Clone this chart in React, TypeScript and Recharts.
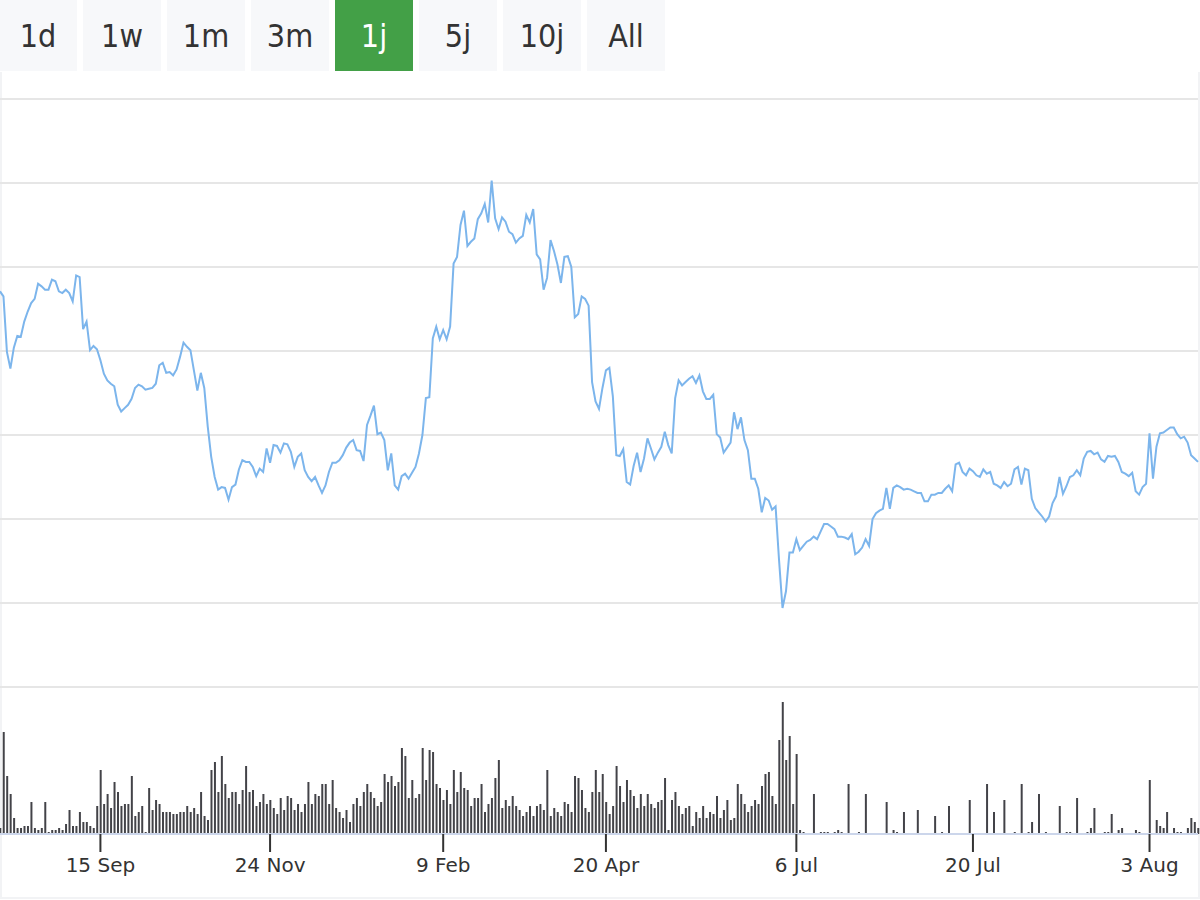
import { ComposedChart, Line, Bar, XAxis, YAxis, CartesianGrid } from "recharts";

// closing price, one point per session
const PRICE = [
  57.1, 56.5, 49.9, 47.9, 50.4, 51.8, 51.7, 53.5, 54.7, 55.7,
  56.2, 58.0, 57.7, 57.3, 57.3, 58.5, 58.3, 57.1, 56.9, 57.3,
  56.9, 55.9, 59.0, 58.8, 52.6, 53.5, 50.1, 50.6, 50.2, 48.9,
  47.3, 46.5, 46.1, 45.8, 43.6, 42.8, 43.2, 43.6, 44.3, 45.6,
  46.0, 45.8, 45.4, 45.5, 45.6, 46.1, 48.3, 48.6, 47.4, 47.5,
  47.1, 47.8, 49.3, 51.0, 50.5, 50.1, 47.7, 45.3, 47.4, 45.6,
  41.0, 37.4, 35.0, 33.5, 33.8, 33.7, 32.3, 33.8, 34.1, 35.9,
  37.0, 36.8, 36.8, 36.2, 35.1, 36.0, 35.6, 38.4, 36.7, 38.8,
  38.7, 37.9, 39.0, 38.9, 38.0, 36.2, 37.4, 37.8, 35.8, 35.0,
  34.5, 35.0, 34.0, 33.1, 34.0, 35.6, 36.7, 36.7, 37.0, 37.6,
  38.5, 39.1, 39.4, 38.2, 38.1, 36.9, 41.2, 42.3, 43.5, 40.1,
  40.3, 39.4, 35.8, 37.8, 34.0, 33.5, 35.1, 35.4, 34.8, 35.5,
  36.2, 37.8, 40.0, 44.4, 44.5, 51.5, 52.9, 51.4, 52.5, 51.4,
  52.9, 60.4, 61.2, 65.0, 66.7, 62.5, 63.0, 63.4, 65.7, 66.4,
  67.5, 65.3, 70.3, 65.8, 64.5, 65.9, 65.4, 64.2, 63.9, 62.9,
  63.4, 63.7, 66.2, 65.3, 66.9, 61.5, 60.9, 57.3, 58.7, 63.2,
  61.9, 60.3, 58.1, 61.2, 61.3, 60.0, 54.0, 54.4, 56.5, 56.2,
  55.4, 46.3, 44.0, 43.1, 45.6, 47.7, 48.0, 44.6, 37.6, 37.5,
  38.3, 34.4, 34.1, 36.3, 37.9, 35.6, 37.2, 39.6, 38.4, 37.1,
  37.9, 38.6, 40.4, 38.8, 37.8, 44.4, 46.5, 45.9, 46.3, 46.7,
  47.0, 46.2, 47.1, 45.2, 44.3, 44.3, 44.8, 40.1, 39.7, 37.9,
  38.5, 39.1, 42.7, 40.7, 42.1, 39.4, 38.2, 34.8, 34.8, 33.6,
  30.8, 32.5, 32.2, 31.1, 31.5, 25.1, 19.4, 21.4, 26.0, 26.0,
  27.6, 26.3, 26.8, 27.3, 27.5, 27.9, 27.6, 28.5, 29.4, 29.4,
  29.1, 28.8, 27.9, 27.9, 27.8, 27.6, 28.2, 25.8, 26.1, 26.6,
  27.6, 26.8, 30.0, 30.7, 31.0, 31.2, 33.7, 31.2, 33.7, 34.0,
  33.8, 33.5, 33.6, 33.5, 33.3, 33.1, 33.1, 32.1, 32.1, 32.9,
  32.9, 33.1, 33.1, 33.6, 34.0, 33.3, 36.5, 36.7, 35.6, 35.2,
  36.0, 35.7, 35.2, 35.0, 35.9, 35.4, 35.6, 34.2, 34.0, 33.7,
  34.4, 33.9, 34.2, 35.9, 36.2, 34.1, 36.0, 35.8, 32.4, 31.3,
  30.8, 30.3, 29.7, 30.3, 31.9, 32.7, 35.0, 33.0, 33.9, 35.0,
  35.2, 35.8, 35.2, 37.2, 38.0, 38.1, 37.7, 37.9, 37.1, 36.8,
  37.5, 37.4, 37.5, 36.8, 35.6, 35.4, 35.1, 35.5, 33.3, 32.9,
  33.8, 34.2, 40.2, 34.8, 38.6, 40.2, 40.3, 40.6, 40.9, 40.9,
  40.1, 39.6, 39.8, 39.1, 37.6, 37.2, 36.8,
];

// traded volume (thousands), same points as PRICE
const VOLUME = [
  6, 102, 58, 40, 16, 6, 6, 8, 8, 32,
  6, 4, 6, 32, 2, 4, 4, 6, 4, 10,
  24, 8, 8, 22, 12, 12, 8, 6, 28, 64,
  30, 40, 26, 52, 42, 28, 30, 30, 58, 18,
  22, 28, 2, 46, 24, 34, 30, 22, 22, 22,
  20, 20, 22, 22, 28, 22, 26, 20, 42, 18,
  14, 64, 72, 42, 78, 50, 36, 42, 42, 30,
  44, 68, 42, 44, 28, 32, 40, 30, 34, 26,
  20, 36, 24, 38, 36, 24, 30, 22, 30, 52,
  30, 40, 38, 50, 50, 30, 54, 26, 22, 16,
  24, 12, 30, 36, 28, 42, 50, 42, 36, 28,
  32, 60, 52, 58, 48, 52, 86, 78, 36, 54,
  36, 40, 86, 54, 84, 82, 50, 46, 34, 44,
  30, 64, 42, 62, 46, 44, 28, 36, 36, 50,
  22, 30, 36, 56, 74, 26, 34, 28, 38, 28,
  24, 18, 22, 28, 18, 28, 30, 24, 64, 18,
  26, 22, 18, 32, 30, 22, 58, 56, 44, 26,
  22, 42, 64, 42, 60, 32, 20, 28, 68, 48,
  32, 54, 44, 38, 26, 40, 28, 40, 30, 26,
  32, 34, 56, 4, 34, 42, 28, 20, 26, 28,
  8, 22, 16, 28, 16, 22, 20, 38, 16, 24,
  34, 14, 16, 50, 40, 30, 22, 28, 34, 30,
  48, 60, 62, 38, 30, 94, 132, 74, 98, 30,
  80, 4, 2, 0, 0, 40, 0, 2, 2, 2,
  0, 2, 4, 2, 0, 50, 0, 0, 2, 0,
  40, 0, 0, 0, 0, 0, 32, 0, 4, 2,
  0, 22, 0, 0, 0, 24, 0, 0, 0, 0,
  18, 0, 2, 0, 28, 0, 0, 0, 0, 0,
  34, 0, 0, 0, 0, 50, 0, 22, 0, 0,
  34, 0, 0, 2, 0, 50, 0, 2, 12, 0,
  40, 0, 2, 0, 0, 0, 28, 0, 2, 2,
  0, 36, 0, 0, 2, 6, 26, 0, 0, 2,
  2, 20, 0, 4, 6, 0, 0, 0, 4, 2,
  0, 0, 54, 0, 14, 8, 6, 22, 0, 6,
  2, 2, 0, 6, 16, 12, 6,
];

const TICK_INDEX = [29, 78, 128, 175, 230, 281, 332];
const TICK_LABELS = ["15 Sep", "24 Nov", "9 Feb", "20 Apr", "6 Jul", "20 Jul", "3 Aug"];
const PRICE_GRID = [10, 20, 30, 40, 50, 60, 70, 80];
const RANGES = ["1d", "1w", "1m", "3m", "1j", "5j", "10j", "All"];
const ACTIVE_RANGE = "1j";

const data = PRICE.map((p, i) => ({ i, price: p, volume: VOLUME[i] ?? 0 }));

export default function App() {
  return (
    <div style={{ position: "relative", width: 1200, height: 900, background: "#fff" }}>
      <style>{`body{margin:0}`}</style>
      {RANGES.map((r, k) => (
        <div
          key={r}
          style={{
            position: "absolute", left: k * 84 - 1, top: 0, width: 78, height: 71,
            background: r === ACTIVE_RANGE ? "#43a047" : "#f7f8fa",
            color: r === ACTIVE_RANGE ? "#fff" : "#333",
            display: "flex", alignItems: "center", justifyContent: "center",
            fontSize: 32, fontFamily: "'Liberation Sans Narrow', 'Arial Narrow', 'DejaVu Sans Condensed', sans-serif",
          }}
        >
          {r}
        </div>
      ))}
      {/* light frame round the plot, open at the top */}
      <div style={{
        position: "absolute", left: 0, top: 72, width: 1200, height: 827, boxSizing: "border-box",
        borderLeft: "2px solid #f2f3f5", borderRight: "2px solid #f2f3f5", borderBottom: "2px solid #f2f3f5",
      }} />
      <div style={{ position: "absolute", left: 0, top: 72 }}>
        <ComposedChart width={1200} height={828} data={data} margin={{ top: 27, right: 2, bottom: 0, left: 0 }}>
          <CartesianGrid yAxisId="price" vertical={false} stroke="#e6e6e6" strokeWidth={2} />
          <XAxis
            dataKey="i" type="number" domain={[0, PRICE.length - 1]} ticks={TICK_INDEX} interval={0}
            tickFormatter={(v) => TICK_LABELS[TICK_INDEX.indexOf(v)]}
            height={66} tickSize={18} tickMargin={6}
            axisLine={{ stroke: "#ccd6eb", strokeWidth: 2 }}
            tickLine={{ stroke: "#333", strokeWidth: 2 }}
            tick={{ fill: "#333", fontSize: 20, fontFamily: "DejaVu Sans" }}
          />
          <YAxis yAxisId="price" hide domain={[-7.5, 80]} ticks={PRICE_GRID} allowDataOverflow />
          <YAxis yAxisId="volume" hide domain={[0, 735]} allowDataOverflow />
          <Bar yAxisId="volume" dataKey="volume" fill="#434348" barSize={2} isAnimationActive={false} />
          <Line yAxisId="price" dataKey="price" type="linear" stroke="#7cb5ec" strokeWidth={2} dot={false} isAnimationActive={false} />
        </ComposedChart>
      </div>
    </div>
  );
}
